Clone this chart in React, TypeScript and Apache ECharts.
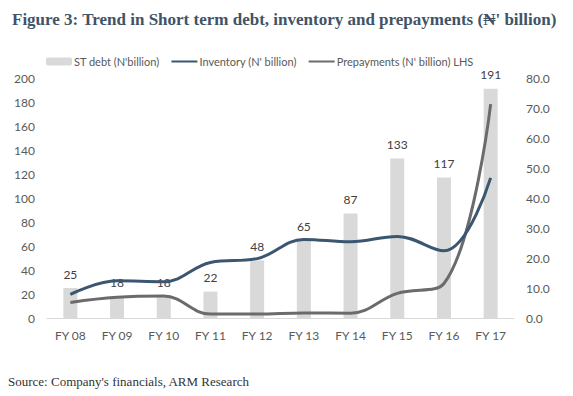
import React, { useEffect, useRef } from "react";
import * as echarts from "echarts";

const categories = ["FY 08", "FY 09", "FY 10", "FY 11", "FY 12", "FY 13", "FY 14", "FY 15", "FY 16", "FY 17"];
const stDebt = [25, 18, 18, 22, 48, 65, 87, 133, 117, 191];
const inventory = [7.9, 12.4, 12.1, 18.5, 19.8, 26.2, 25.4, 27.2, 22.4, 46.7];
const prepayments = [5.2, 6.9, 7.3, 1.3, 1.3, 1.7, 1.6, 8.2, 11.5, 71.3];

const FONT = "Lato, 'Open Sans', sans-serif";
const TXT = "#595959";

export default function App() {
  const ref = useRef<HTMLDivElement>(null);
  useEffect(() => {
    const chart = echarts.init(ref.current!, null, { renderer: "svg" });
    chart.setOption({
      animation: false,
      backgroundColor: "#ffffff",
      title: {
        text: "Figure 3: Trend in Short term debt, inventory and prepayments (\u20A6' billion)",
        left: 7,
        top: 6,
        textStyle: {
          fontFamily: "'Liberation Serif', 'DejaVu Serif', serif",
          fontWeight: "bold",
          fontSize: 17,
          color: "#3f5468",
        },
      },
      legend: {
        left: 41,
        top: 51,
        itemWidth: 26,
        itemHeight: 8,
        itemGap: 11,
        textStyle: { fontFamily: FONT, fontSize: 11, color: TXT, padding: [0, 0, 0, -3] },
        data: [
          { name: "ST debt (N'billion)" },
          { name: "Inventory (N' billion)", itemStyle: { opacity: 0 } },
          { name: "Prepayments (N' billion) LHS", itemStyle: { opacity: 0 } },
        ],
      },
      grid: { left: 47, right: 59, top: 78, bottom: 78, containLabel: false },
      xAxis: {
        type: "category",
        data: categories,
        axisLine: { lineStyle: { color: "#d9d9d9", width: 1 } },
        axisTick: { show: false },
        axisLabel: { fontFamily: FONT, fontSize: 12, color: TXT, margin: 11 },
      },
      yAxis: [
        {
          type: "value",
          min: 0,
          max: 200,
          interval: 20,
          splitLine: { show: false },
          axisLine: { show: false },
          axisTick: { show: false },
          axisLabel: { fontFamily: FONT, fontSize: 12, color: TXT, margin: 12 },
        },
        {
          type: "value",
          min: 0,
          max: 80,
          interval: 10,
          splitLine: { show: false },
          axisLine: { show: false },
          axisTick: { show: false },
          axisLabel: {
            fontFamily: FONT,
            fontSize: 12,
            color: TXT,
            margin: 12,
            formatter: (v: number) => v.toFixed(1),
          },
        },
      ],
      series: [
        {
          name: "ST debt (N'billion)",
          type: "bar",
          data: stDebt,
          yAxisIndex: 0,
          barWidth: 14,
          itemStyle: { color: "#d9d9d9" },
          label: {
            show: true,
            position: "top",
            distance: 8,
            fontFamily: FONT,
            fontSize: 12,
            color: "#404040",
          },
          z: 1,
        },
        {
          name: "Inventory (N' billion)",
          type: "line",
          data: inventory,
          yAxisIndex: 1,
          smooth: 0.4,
          symbol: "none",
          lineStyle: { color: "#3b5670", width: 3 },
          itemStyle: { color: "#3b5670" },
          z: 3,
        },
        {
          name: "Prepayments (N' billion) LHS",
          type: "line",
          data: prepayments,
          yAxisIndex: 1,
          smooth: 0.4,
          symbol: "none",
          lineStyle: { color: "#6b6b6b", width: 3 },
          itemStyle: { color: "#6b6b6b" },
          z: 2,
        },
      ],
      graphic: [
        {
          type: "text",
          left: 8,
          top: 375,
          style: {
            text: "Source: Company's financials, ARM Research",
            font: "13px 'Liberation Serif', 'DejaVu Serif', serif",
            fill: "#333333",
          },
        },
      ],
    });
    return () => chart.dispose();
  }, []);
  return (
    <div
      ref={ref}
      style={{ position: "fixed", left: 0, top: 0, width: 573, height: 396 }}
    />
  );
}
